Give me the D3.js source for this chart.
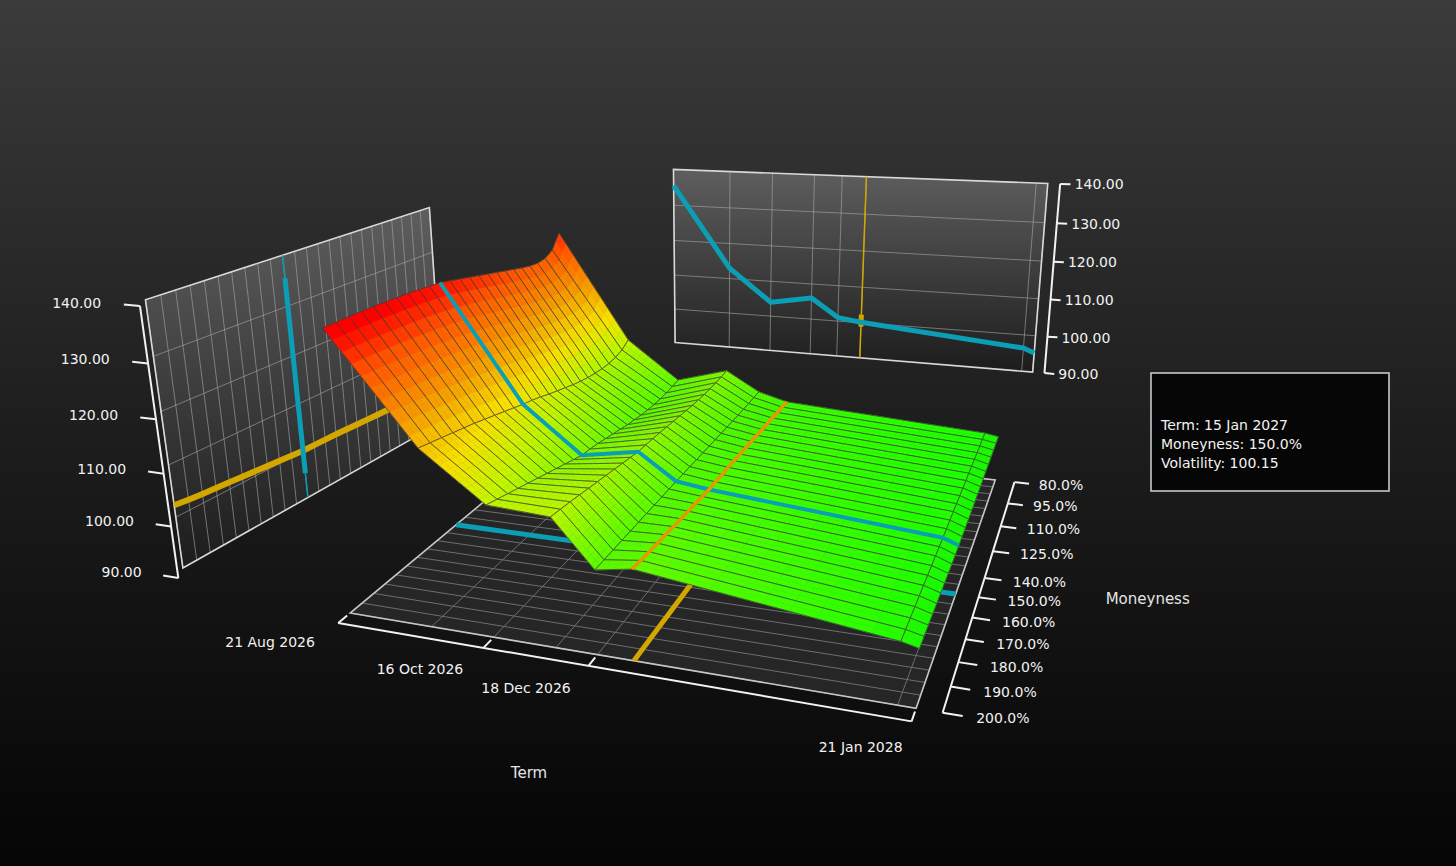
<!DOCTYPE html>
<html>
<head>
<meta charset="utf-8">
<script src="https://cdn.jsdelivr.net/npm/d3@7"></script>
<style>
body{margin:0;background:#000;overflow:hidden;}
text{font-family:"DejaVu Sans",sans-serif;}
</style>
</head>
<body>
<script>
// ---- data ----
const terms = ["2026-08-21","2026-09-18","2026-10-16","2026-11-20","2026-12-18","2027-01-15","2027-12-17","2028-01-21"];
const moneyness = [80,85,90,95,100,105,110,115,120,125,130,135,140,145,150,155,160,165,170,175,180,185,190,195,200];

// one smile per term, 80% -> 200%
const vol_21Aug26 = [133.5,130.5,129.5,129.3,129.6,130.1,130.7,131.3,131.9,132.5,133.1,133.7,134.3,134.9,135.5,135.8,136.1,136.4,136.6,136.8,137,137.15,137.3,137.4,137.5];
const vol_18Sep26 = [110,108.8,108.2,108,108,108.2,108.5,108.9,109.4,110,110.6,111.2,111.9,112.5,113,113.6,114.2,114.8,115.4,116,116.5,117,117.5,118,118.5];
const vol_16Oct26 = [101.6,101.3,101.1,101,101,101.1,101.3,101.6,101.9,102.3,102.7,103.1,103.5,103.8,104,104.6,105.2,105.8,106.4,107,107.6,108.2,108.8,109.4,110];
const vol_20Nov26 = [104.8,104.6,104.5,104.4,104.4,104.5,104.6,104.8,105,105.2,105.4,105.6,105.75,105.9,106,106.35,106.7,107.05,107.4,107.75,108.1,108.45,108.8,109.1,109.4];
const vol_18Dec26 = [100.6,100.55,100.5,100.5,100.5,100.55,100.6,100.65,100.7,100.75,100.8,100.85,100.9,100.95,101,101.02,101.05,101.07,101.1,101.12,101.14,101.16,101.18,101.19,101.2];
const vol_15Jan27 = [98.9,99,99.1,99.2,99.3,99.4,99.5,99.6,99.7,99.8,99.9,100,100.05,100.1,100.15,100.35,100.55,100.75,100.95,101.15,101.35,101.55,101.75,102,102.3];
const vol_17Dec27 = [96.2,96.2,96.2,96.2,96.25,96.25,96.3,96.3,96.3,96.35,96.35,96.4,96.4,96.4,96.4,96.45,96.5,96.5,96.55,96.6,96.65,96.7,96.7,96.75,96.8];
const vol_21Jan28 = [95.7,95.65,95.6,95.55,95.5,95.5,95.45,95.4,95.4,95.35,95.35,95.3,95.3,95.3,95.3,95.35,95.4,95.5,95.6,95.7,95.75,95.85,95.95,96.05,96.1];

const termTicks = ["2026-08-21","2026-10-16","2026-12-18","2028-01-21"];
const moneynessTicks = [80,95,110,125,140,150,160,170,180,190,200];
const volTicks = [90,100,110,120,130,140];

// the picked point (tooltip + cross lines)
const pickTerm = "2027-01-15";
const pickMoneyness = 150;

const vols = [vol_21Aug26,vol_18Sep26,vol_16Oct26,vol_20Nov26,vol_18Dec26,vol_15Jan27,vol_17Dec27,vol_21Jan28];

// ---- canvas ----
const W = 1456, H = 866;
const svg = d3.select("body").append("svg").attr("width",W).attr("height",H);
const defs = svg.append("defs");

let bg = defs.append("linearGradient").attr("id","bg").attr("x1",0).attr("y1",0).attr("x2",0).attr("y2",1);
bg.append("stop").attr("offset",0).attr("stop-color","#3b3b3b");
bg.append("stop").attr("offset",0.5).attr("stop-color","#1d1d1d");
bg.append("stop").attr("offset",1).attr("stop-color","#050505");
svg.append("rect").attr("width",W).attr("height",H).attr("fill","url(#bg)");

let wg = defs.append("linearGradient").attr("id","wall").attr("x1",0).attr("y1",0).attr("x2",0).attr("y2",1);
wg.append("stop").attr("offset",0).attr("stop-color","#5e5e5e");
wg.append("stop").attr("offset",1).attr("stop-color","#1c1c1c");

// ---- scales ----
const parse = d3.timeParse("%Y-%m-%d");
const fmtDate = d3.timeFormat("%d %b %Y");
const valDate = parse("2026-06-17");
const days = s => d3.timeDay.count(valDate, parse(s));

const xS = d3.scaleLog().domain([days(terms[0]), days(terms[terms.length-1])]).range([0,1]);
const yS = d3.scaleLinear().domain([200,80]).range([0,0.99]);
const zS = d3.scaleLinear().domain([86,140]).range([0,0.551]);  // surface, floor sits a little under 90
const zB = d3.scaleLinear().domain([90,140]).range([0,0.50]);   // back panel
const zL = d3.scaleLinear().domain([90,140]).range([0,0.53]);   // left panel
const color = d3.scaleLinear()
    .domain([96,110,115,121,130,136])
    .range(["#1aff00","#c4f500","#f8e000","#f5a500","#ff5500","#ff0000"])
    .clamp(true);

// ---- camera (perspective) ----
const cam = {pos:[1.2716,-1.9175,1.1379], yaw:21.82, pitch:19.66, roll:-1.524, f:1406, cx:608, cy:430};
const rad = Math.PI/180;
const sY = Math.sin(cam.yaw*rad), cY = Math.cos(cam.yaw*rad);
const sP = Math.sin(cam.pitch*rad), cP = Math.cos(cam.pitch*rad);
const sR = Math.sin(cam.roll*rad), cR = Math.cos(cam.roll*rad);
const Fw = [-sY*cP, cY*cP, -sP], Rt = [cY, sY, 0], Up = [-sY*sP, cY*sP, cP];
const dot = (a,b) => a[0]*b[0]+a[1]*b[1]+a[2]*b[2];

function P(x,y,z){
    let r = [x-cam.pos[0], y-cam.pos[1], z-cam.pos[2]];
    let zc = dot(r,Fw);
    let u = cam.f*dot(r,Rt)/zc, v = -cam.f*dot(r,Up)/zc;
    return [cam.cx + u*cR - v*sR, cam.cy + u*sR + v*cR, zc];
}
const line = d3.line();
// world points [x,y,z] -> svg path
function path3(pts){
    return line(pts.map(p => {let q = P(p[0],p[1],p[2]); return [q[0],q[1]];}));
}

const xs = terms.map(t => xS(days(t)));
const ys = moneyness.map(m => yS(m));
const y0 = yS(200), y1 = yS(80);
const pj = terms.indexOf(pickTerm), pi = moneyness.indexOf(pickMoneyness);
const cyan = "#0b9eb4", yellow = "#d4a600";

// left panel sits a bit askew, out on the left of the box
const wallFront = [-0.408,0.062], wallBack = [-0.325,0.981];
const wS = d3.scaleLinear().domain([200,80]).range([0,1]);
function wallPt(m, v){
    let t = wS(m);
    return [wallFront[0]+(wallBack[0]-wallFront[0])*t, wallFront[1]+(wallBack[1]-wallFront[1])*t, zL(v)];
}
// back panel (vol vs term) sits behind the 80% edge
const yPanel = 1.8;

function gridLine(g, pts){
    g.append("path").attr("d", path3(pts))
        .attr("stroke","#a8a8a8").attr("stroke-opacity",0.6).attr("stroke-width",1).attr("fill","none");
}

// ---- left wall ----
const gL = svg.append("g");
const wallBox = [wallPt(200,90),wallPt(80,90),wallPt(80,140),wallPt(200,140)];
gL.append("path").attr("d", path3(wallBox)+"Z").attr("fill","url(#wall)");
moneyness.forEach(m => gridLine(gL, [wallPt(m,90), wallPt(m,140)]));
volTicks.slice(1,-1).forEach(v => gridLine(gL, [wallPt(200,v), wallPt(80,v)]));
gL.append("path").attr("d", path3(wallBox)+"Z")
    .attr("fill","none").attr("stroke","#d8d8d8").attr("stroke-width",1.6);
// smile of the picked term
gL.append("path").attr("d", path3(moneyness.map((m,i) => wallPt(m, vols[pj][i]))))
    .attr("stroke",yellow).attr("stroke-width",6).attr("fill","none");
// picked moneyness marker
let ts = vols.map(r => r[pi]);
gL.append("path").attr("d", path3([wallPt(pickMoneyness,90), wallPt(pickMoneyness,140)]))
    .attr("stroke",cyan).attr("stroke-width",1.5).attr("fill","none");
gL.append("path").attr("d", path3([wallPt(pickMoneyness,d3.min(ts)), wallPt(pickMoneyness,d3.max(ts))]))
    .attr("stroke",cyan).attr("stroke-width",5).attr("fill","none");

// ---- back panel ----
const gB = svg.append("g");
const backBox = [[0,yPanel,0],[1,yPanel,0],[1,yPanel,zB(140)],[0,yPanel,zB(140)]];
gB.append("path").attr("d", path3(backBox)+"Z").attr("fill","url(#wall)");
xs.forEach(x => gridLine(gB, [[x,yPanel,0],[x,yPanel,zB(140)]]));
volTicks.slice(1,-1).forEach(v => gridLine(gB, [[0,yPanel,zB(v)],[1,yPanel,zB(v)]]));
gB.append("path").attr("d", path3(backBox)+"Z")
    .attr("fill","none").attr("stroke","#d8d8d8").attr("stroke-width",1.6);
let smile = vols[pj];
gB.append("path").attr("d", path3([[xs[pj],yPanel,0],[xs[pj],yPanel,zB(140)]]))
    .attr("stroke",yellow).attr("stroke-width",1.5).attr("fill","none");
gB.append("path").attr("d", path3([[xs[pj],yPanel,zB(d3.min(smile))],[xs[pj],yPanel,zB(d3.max(smile))]]))
    .attr("stroke",yellow).attr("stroke-width",5).attr("fill","none");
gB.append("path").attr("d", path3(xs.map((x,j) => [x, yPanel, zB(vols[j][pi])])))
    .attr("stroke",cyan).attr("stroke-width",5).attr("stroke-linejoin","round").attr("fill","none");

// ---- floor ----
const gF = svg.append("g");
const floorBox = [[0,y0,0],[1,y0,0],[1,y1,0],[0,y1,0]];
gF.append("path").attr("d", path3(floorBox)+"Z").attr("fill","#262626");
ys.forEach(y => {
    gF.append("path").attr("d", path3([[0,y,0],[1,y,0]]))
        .attr("stroke","#6e6e6e").attr("stroke-width",1).attr("fill","none");
});
xs.forEach(x => {
    gF.append("path").attr("d", path3([[x,y0,0],[x,y1,0]]))
        .attr("stroke","#6e6e6e").attr("stroke-width",1).attr("fill","none");
});
gF.append("path").attr("d", path3(floorBox)+"Z")
    .attr("fill","none").attr("stroke","#c4c4c4").attr("stroke-width",1.6);
// shadows of the two picked lines
gF.append("path").attr("d", path3([[0,yS(pickMoneyness),0],[1,yS(pickMoneyness),0]]))
    .attr("stroke",cyan).attr("stroke-width",5).attr("fill","none");
gF.append("path").attr("d", path3([[xs[pj],y0,0],[xs[pj],y1,0]]))
    .attr("stroke",yellow).attr("stroke-width",5).attr("fill","none");

// ---- axes ----
const gA = svg.append("g").attr("fill","#f2f2f2").style("font-size","14px");
const axisStroke = s => s.attr("stroke","#f2f2f2").attr("stroke-width",2).attr("fill","none");

// left vol axis (just in front of the left panel)
const axL = v => { let p = wallPt(200,v); return [p[0]+0.02, p[1]-0.04, p[2]]; };
axisStroke(gA.append("path").attr("d", path3([axL(90), axL(140)])));
volTicks.forEach(v => {
    let a = axL(v);
    axisStroke(gA.append("path").attr("d", path3([a, [a[0]-0.035, a[1], a[2]]])));
    let p = P(a[0]-0.085, a[1], a[2]);
    gA.append("text").attr("x",p[0]).attr("y",p[1]).attr("dy","0.35em").attr("text-anchor","end")
        .text(d3.format(".2f")(v));
});

// back vol axis
const xAx = 1.03;
axisStroke(gA.append("path").attr("d", path3([[xAx,yPanel,0],[xAx,yPanel,zB(140)]])));
volTicks.forEach(v => {
    axisStroke(gA.append("path").attr("d", path3([[xAx,yPanel,zB(v)],[xAx+0.025,yPanel,zB(v)]])));
    let p = P(xAx+0.035, yPanel, zB(v));
    gA.append("text").attr("x",p[0]).attr("y",p[1]).attr("dy","0.35em").attr("text-anchor","start")
        .text(d3.format(".2f")(v));
});

// term axis
const yT = -0.04;
axisStroke(gA.append("path").attr("d", path3([[0,yT,0],[1,yT,0]])));
termTicks.forEach(t => {
    let x = xS(days(t));
    axisStroke(gA.append("path").attr("d", path3([[x,yT,0],[x,yT+0.03,0]])));
    let p = P(x, yT-0.075, 0);
    gA.append("text").attr("x",p[0]).attr("y",p[1]).attr("dy","0.35em").attr("text-anchor","end")
        .text(fmtDate(parse(t)));
});

// moneyness axis
const xM = 1.04;
axisStroke(gA.append("path").attr("d", path3([[xM,y0,0],[xM,y1,0]])));
moneynessTicks.forEach(m => {
    axisStroke(gA.append("path").attr("d", path3([[xM,yS(m),0],[xM+0.03,yS(m),0]])));
    let p = P(xM+0.05, yS(m), 0);
    gA.append("text").attr("x",p[0]).attr("y",p[1]).attr("dy","0.35em").attr("text-anchor","start")
        .text(d3.format(".1f")(m)+"%");
});

// axis titles
let pt = P(0.51,-0.355,0), pm = P(1.32,0.5,0);
gA.append("text").attr("x",pt[0]).attr("y",pt[1]).attr("dy","0.35em").attr("text-anchor","middle")
    .style("font-size","15px").attr("fill","#e4e4e4").text("Term");
gA.append("text").attr("x",pm[0]).attr("y",pm[1]).attr("dy","0.35em").attr("text-anchor","middle")
    .style("font-size","15px").attr("fill","#e4e4e4").text("Moneyness");

// ---- surface ----
let cells = [];
for(let j=0;j<terms.length-1;j++){
    for(let i=0;i<moneyness.length-1;i++){
        let vm = (vols[j][i]+vols[j+1][i]+vols[j][i+1]+vols[j+1][i+1])/4;
        let c = P((xs[j]+xs[j+1])/2, (ys[i]+ys[i+1])/2, zS(vm));
        cells.push({j:j, i:i, depth:c[2]});
    }
}
// far cells first
cells.sort((a,b) => b.depth-a.depth);

const NS = 10, NM = 2;
const gS = svg.append("g");
cells.forEach(c => {
    let j = c.j, i = c.i;
    let v00 = vols[j][i], v10 = vols[j+1][i], v01 = vols[j][i+1], v11 = vols[j+1][i+1];
    let corner = (s,t) => {
        let v = v00*(1-s)*(1-t) + v10*s*(1-t) + v01*(1-s)*t + v11*s*t;
        return [xs[j]+(xs[j+1]-xs[j])*s, ys[i]+(ys[i+1]-ys[i])*t, v];
    };
    let sub = [];
    for(let a=0;a<NS;a++){
        for(let b=0;b<NM;b++){
            let q = [corner(a/NS,b/NM), corner((a+1)/NS,b/NM), corner((a+1)/NS,(b+1)/NM), corner(a/NS,(b+1)/NM)];
            sub.push({q:q, v:d3.mean(q, d => d[2])});
        }
    }
    let g = gS.append("g");
    g.selectAll("path").data(sub).join("path")
        .attr("d", d => path3(d.q.map(p => [p[0],p[1],zS(p[2])]))+"Z")
        .attr("fill", d => color(d.v))
        .attr("stroke", d => color(d.v))
        .attr("stroke-width",0.6);
    g.append("path")
        .attr("d", path3([[xs[j],ys[i],zS(v00)],[xs[j+1],ys[i],zS(v10)],[xs[j+1],ys[i+1],zS(v11)],[xs[j],ys[i+1],zS(v01)]])+"Z")
        .attr("fill","none").attr("stroke","#3b3b3b").attr("stroke-opacity",0.8).attr("stroke-width",0.9);
});

// picked lines on the surface
gS.append("path").attr("d", path3(xs.map((x,j) => [x, yS(pickMoneyness), zS(vols[j][pi])])))
    .attr("stroke",cyan).attr("stroke-width",4).attr("stroke-linejoin","round").attr("fill","none");
gS.append("path").attr("d", path3(moneyness.map((m,i) => [xs[pj], yS(m), zS(vols[pj][i])])))
    .attr("stroke","#e39a00").attr("stroke-width",3.5).attr("fill","none");

// ---- tooltip ----
const tip = svg.append("g");
tip.append("rect").attr("x",1151).attr("y",373).attr("width",238).attr("height",118)
    .attr("fill","#060606").attr("stroke","#d4d4d4").attr("stroke-width",1.5);
const tipLines = [
    "Term: " + fmtDate(parse(pickTerm)),
    "Moneyness: " + d3.format(".1f")(pickMoneyness) + "%",
    "Volatility: " + d3.format(".2f")(vols[pj][pi])
];
tip.selectAll("text").data(tipLines).join("text")
    .attr("x",1161).attr("y",(d,i) => 430 + i*19)
    .attr("fill","#f2f2f2").style("font-size","14px").text(d => d);
</script>
</body>
</html>
